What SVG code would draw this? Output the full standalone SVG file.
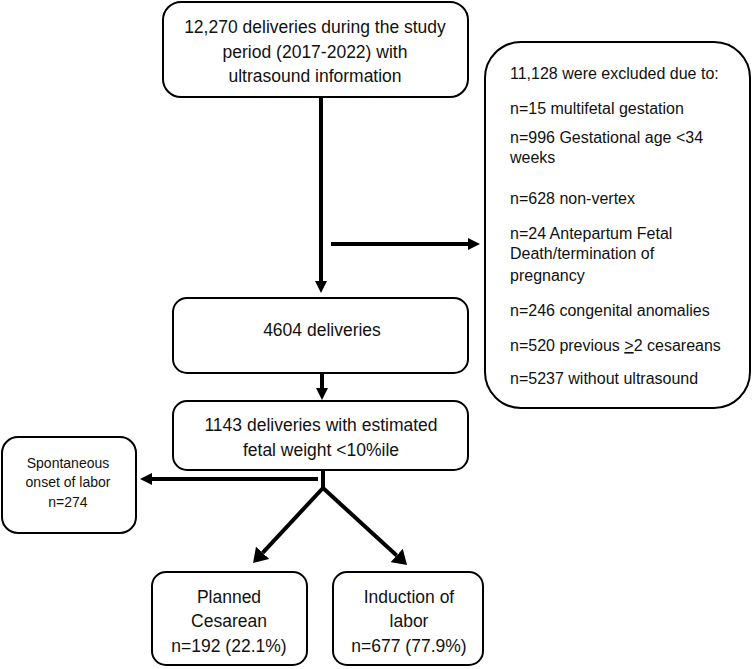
<svg xmlns="http://www.w3.org/2000/svg" width="752" height="669" viewBox="0 0 752 669">
<defs>
<style>
.box{fill:#fff;stroke:#000;stroke-width:2}
.t{font-family:"Liberation Sans",Arial,sans-serif;font-size:17.5px;fill:#111}
.c{text-anchor:middle}
.e{font-size:16px}
.s{font-size:14px}
.ln{stroke:#000;stroke-width:4;fill:none}
</style>
<marker id="ah" markerUnits="userSpaceOnUse" markerWidth="12" markerHeight="12" refX="0" refY="6" orient="auto"><path d="M0,0 L12,6 L0,12 z" fill="#000"/></marker>
<marker id="ahb" markerUnits="userSpaceOnUse" markerWidth="14" markerHeight="18" refX="0" refY="9" orient="auto"><path d="M0,0 L14,9 L0,18 z" fill="#000"/></marker>
</defs>
<rect width="752" height="669" fill="#fff"/>
<g id="connectors">
<line class="ln" x1="321" y1="97" x2="321" y2="281" marker-end="url(#ah)"/>
<line class="ln" x1="331" y1="244" x2="468" y2="244" marker-end="url(#ah)"/>
<line class="ln" x1="322" y1="373" x2="322" y2="388" marker-end="url(#ah)"/>
<line class="ln" x1="323" y1="470" x2="323" y2="489"/>
<line class="ln" x1="318" y1="479" x2="152" y2="479" marker-end="url(#ah)"/>
<line class="ln" x1="323" y1="488" x2="262.6" y2="552.8" marker-end="url(#ahb)"/>
<line class="ln" x1="323" y1="488" x2="396.7" y2="555.5" marker-end="url(#ahb)"/>
</g>
<g id="n-start">
<rect class="box" x="163" y="2" width="305" height="95" rx="18"/>
<text class="t c" x="315" y="33">12,270 deliveries during the study</text>
<text class="t c" x="315" y="58">period (2017-2022) with</text>
<text class="t c" x="315" y="82">ultrasound information</text>
</g>
<g id="n-excluded">
<rect class="box" x="485" y="42" width="265" height="366" rx="36"/>
<text class="t e" x="510" y="79">11,128 were excluded due to:</text>
<text class="t e" x="510" y="114">n=15 multifetal gestation</text>
<text class="t e" x="510" y="143">n=996 Gestational age &lt;34</text>
<text class="t e" x="510" y="163">weeks</text>
<text class="t e" x="510" y="204">n=628 non-vertex</text>
<text class="t e" x="510" y="239">n=24 Antepartum Fetal</text>
<text class="t e" x="510" y="259">Death/termination of</text>
<text class="t e" x="510" y="281">pregnancy</text>
<text class="t e" x="510" y="316">n=246 congenital anomalies</text>
<text class="t e" x="510" y="351">n=520 previous <tspan text-decoration="underline">&gt;</tspan>2 cesareans</text>
<text class="t e" x="510" y="384">n=5237 without ultrasound</text>
</g>
<g id="n-4604">
<rect class="box" x="173" y="298" width="295" height="75" rx="14"/>
<text class="t c" x="322" y="336">4604 deliveries</text>
</g>
<g id="n-1143">
<rect class="box" x="173" y="401" width="295" height="69" rx="14"/>
<text class="t c" x="321" y="431">1143 deliveries with estimated</text>
<text class="t c" x="321" y="456">fetal weight &lt;10%ile</text>
</g>
<g id="n-spont">
<rect class="box" x="2" y="437" width="134" height="96" rx="16"/>
<text class="t c s" x="68" y="468">Spontaneous</text>
<text class="t c s" x="68" y="487">onset of labor</text>
<text class="t c s" x="68" y="507">n=274</text>
</g>
<g id="n-cesarean">
<rect class="box" x="152" y="572" width="155" height="93" rx="14"/>
<text class="t c" x="229" y="603">Planned</text>
<text class="t c" x="229" y="627">Cesarean</text>
<text class="t c" x="229" y="652">n=192 (22.1%)</text>
</g>
<g id="n-induction">
<rect class="box" x="333" y="572" width="150" height="93" rx="14"/>
<text class="t c" x="409" y="603">Induction of</text>
<text class="t c" x="409" y="627">labor</text>
<text class="t c" x="409" y="652">n=677 (77.9%)</text>
</g>
</svg>
